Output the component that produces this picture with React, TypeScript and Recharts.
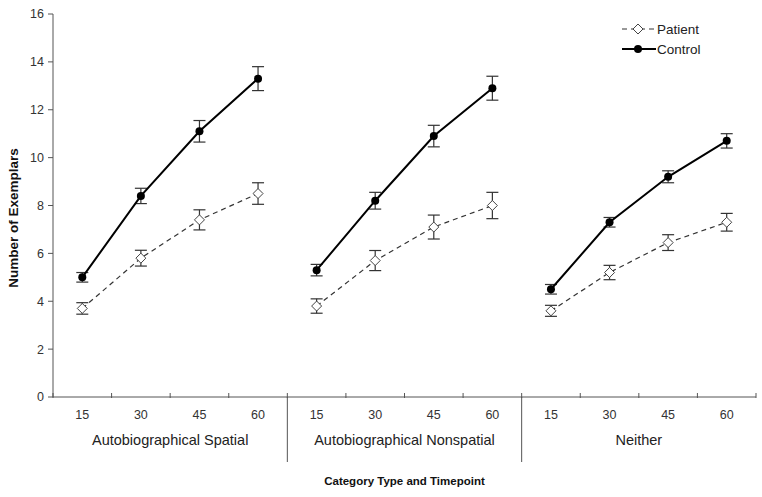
import React from 'react';
import { ComposedChart, Line, XAxis, YAxis, ErrorBar } from 'recharts';

const groups = ['Autobiographical Spatial', 'Autobiographical Nonspatial', 'Neither'];
const timepoints = ['15', '30', '45', '60'];
const yTicks = [0, 2, 4, 6, 8, 10, 12, 14, 16];

// means and standard errors per group, per timepoint
const patientMean = [
  [3.7, 5.8, 7.4, 8.5],
  [3.8, 5.7, 7.1, 8.0],
  [3.6, 5.2, 6.45, 7.3],
];
const patientErr = [
  [0.24, 0.33, 0.42, 0.45],
  [0.3, 0.42, 0.5, 0.55],
  [0.23, 0.3, 0.33, 0.37],
];
const controlMean = [
  [5.0, 8.4, 11.1, 13.3],
  [5.3, 8.2, 10.9, 12.9],
  [4.5, 7.3, 9.2, 10.7],
];
const controlErr = [
  [0.2, 0.32, 0.45, 0.5],
  [0.24, 0.35, 0.45, 0.5],
  [0.2, 0.2, 0.25, 0.3],
];

// one row per category; each group gets its own series so lines break between groups
const data = groups.flatMap((g, gi) =>
  timepoints.map((t, ti) => {
    const row: any = { key: `${gi}-${t}`, time: t };
    groups.forEach((_, k) => {
      row[`p${k}`] = k === gi ? patientMean[gi][ti] : null;
      row[`pe${k}`] = k === gi ? patientErr[gi][ti] : null;
      row[`c${k}`] = k === gi ? controlMean[gi][ti] : null;
      row[`ce${k}`] = k === gi ? controlErr[gi][ti] : null;
    });
    return row;
  })
);

const W = 762;
const H = 497;
const LEFT = 53;
const RIGHT = 6;
const BW = (W - LEFT - RIGHT) / data.length;
const FONT = '"Liberation Sans", Arial, sans-serif';

const Diamond = (props: any) => {
  const { cx, cy, index } = props;
  if (cx == null || cy == null) return <g key={`pd-${index}`} />;
  return (
    <path
      key={`pd-${index}`}
      d={`M${cx},${cy - 5} L${cx + 5},${cy} L${cx},${cy + 5} L${cx - 5},${cy} Z`}
      fill="#fff"
      stroke="#444"
      strokeWidth={1}
    />
  );
};

const Dot = (props: any) => {
  const { cx, cy, index } = props;
  if (cx == null || cy == null) return <g key={`cd-${index}`} />;
  return <circle key={`cd-${index}`} cx={cx} cy={cy} r={4} fill="#000" />;
};

const XTick = (props: any) => {
  const { x, y, index } = props;
  const row = data[index];
  const left = x - BW / 2;
  return (
    <g>
      <line x1={left} y1={y - 4} x2={left} y2={y + 1} stroke="#555" />
      {index === data.length - 1 && (
        <line x1={x + BW / 2} y1={y - 4} x2={x + BW / 2} y2={y + 1} stroke="#555" />
      )}
      {index > 0 && index % 4 === 0 && (
        <line x1={left} y1={y} x2={left} y2={y + 65} stroke="#555" />
      )}
      <text x={x} y={y + 22} textAnchor="middle" fontSize={12.5} fill="#333" fontFamily={FONT}>
        {row ? row.time : ''}
      </text>
      {index % 4 === 1 && (
        <text x={x + BW / 2} y={y + 48} textAnchor="middle" fontSize={14.5} fill="#222" fontFamily={FONT}>
          {groups[Math.floor(index / 4)]}
        </text>
      )}
      {index === 5 && (
        <text x={x + BW / 2} y={y + 88} textAnchor="middle" fontSize={11.5} fontWeight="bold" fill="#111" fontFamily={FONT}>
          Category Type and Timepoint
        </text>
      )}
    </g>
  );
};

const LegendBox = () => (
  <svg width={110} height={44} style={{ fontFamily: FONT, position: 'absolute', left: 620, top: 19 }}>
    <line x1={2} y1={10} x2={34} y2={10} stroke="#333" strokeDasharray="5 4" />
    <path d="M18,5 L23,10 L18,15 L13,10 Z" fill="#fff" stroke="#444" />
    <text x={37} y={15} fontSize={13.5} fill="#222">Patient</text>
    <line x1={2} y1={30} x2={36} y2={30} stroke="#000" strokeWidth={2} />
    <circle cx={18} cy={30} r={4} fill="#000" />
    <text x={37} y={35} fontSize={13.5} fill="#222">Control</text>
  </svg>
);

export default function App() {
  return (
    <div style={{ position: 'absolute', left: 0, top: 0, width: W, height: H, background: '#fff' }}>
      <ComposedChart
        width={W}
        height={H}
        data={data}
        margin={{ top: 14, right: RIGHT, bottom: 0, left: 0 }}
      >
        <XAxis
          dataKey="key"
          scale="band"
          interval={0}
          tick={<XTick />}
          tickLine={false}
          tickSize={0}
          tickMargin={0}
          height={100}
          axisLine={{ stroke: '#555' }}
        />
        <YAxis
          domain={[0, 16]}
          ticks={yTicks}
          width={LEFT}
          tick={{ fontSize: 12.5, fill: '#333', fontFamily: FONT }}
          tickSize={5}
          tickMargin={4}
          axisLine={{ stroke: '#555' }}
          tickLine={{ stroke: '#555' }}
          label={{
            content: () => (
              <text
                transform="translate(18,218) rotate(-90)"
                textAnchor="middle"
                fontSize={13.5}
                fontWeight="bold"
                fill="#111"
                fontFamily={FONT}
              >
                Number of Exemplars
              </text>
            ),
          }}
        />
        {groups.map((_, k) => (
          <Line
            key={`p${k}`}
            dataKey={`p${k}`}
            stroke="#333"
            strokeWidth={1.2}
            strokeDasharray="5 4"
            dot={<Diamond />}
            activeDot={false}
            connectNulls={false}
            isAnimationActive={false}
            legendType="none"
          >
            <ErrorBar dataKey={`pe${k}`} width={6} stroke="#333" strokeWidth={1.2} direction="y" />
          </Line>
        ))}
        {groups.map((_, k) => (
          <Line
            key={`c${k}`}
            dataKey={`c${k}`}
            stroke="#000"
            strokeWidth={2}
            dot={<Dot />}
            activeDot={false}
            connectNulls={false}
            isAnimationActive={false}
            legendType="none"
          >
            <ErrorBar dataKey={`ce${k}`} width={6} stroke="#333" strokeWidth={1.2} direction="y" />
          </Line>
        ))}
      </ComposedChart>
      <LegendBox />
    </div>
  );
}
